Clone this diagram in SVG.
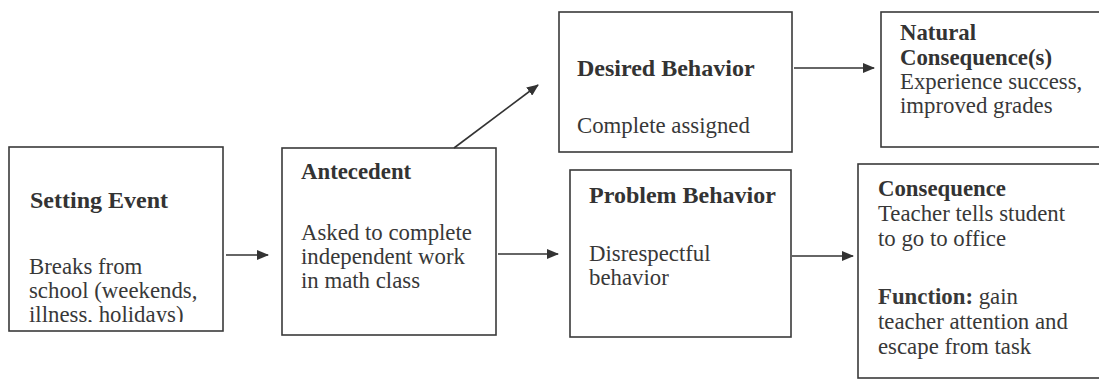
<svg xmlns="http://www.w3.org/2000/svg" width="1099" height="380" viewBox="0 0 1099 380">
  <style>
    .box { fill: #ffffff; stroke: #3a3a3a; stroke-width: 1.6; }
    .t { font-family: "Liberation Serif", "Times New Roman", serif; font-size: 22.8px; fill: #383838; }
    .h { font-family: "Liberation Serif", "Times New Roman", serif; font-size: 22.8px; font-weight: bold; fill: #333333; }
    .hc { font-family: "Liberation Serif", "Times New Roman", serif; font-size: 24px; font-weight: bold; fill: #333333; }
    .link { stroke: #333333; stroke-width: 1.6; fill: none; marker-end: url(#arrow); }
  </style>
  <defs>
    <marker id="arrow" viewBox="0 0 12 10" refX="11" refY="5" markerWidth="12" markerHeight="10" markerUnits="userSpaceOnUse" orient="auto">
      <path d="M0,0 L12,5 L0,10 Z" fill="#333333"/>
    </marker>
    <clipPath id="clipSetting">
      <rect x="9" y="147" width="214" height="175"/>
    </clipPath>
  </defs>
  <rect width="1099" height="380" fill="#ffffff"/>

  <g id="setting-event">
    <rect class="box" x="9" y="147" width="214" height="184"/>
    <g clip-path="url(#clipSetting)">
      <text class="hc" x="30" y="208">Setting Event</text>
      <text class="t" x="29" y="274">Breaks from</text>
      <text class="t" x="29" y="298">school (weekends,</text>
      <text class="t" x="29" y="322">illness, holidays)</text>
    </g>
  </g>

  <g id="antecedent">
    <rect class="box" x="282" y="148" width="214" height="187"/>
    <text class="h" x="301" y="179">Antecedent</text>
    <text class="t" x="301" y="240">Asked to complete</text>
    <text class="t" x="301" y="264">independent work</text>
    <text class="t" x="301" y="288">in math class</text>
  </g>

  <g id="desired-behavior">
    <rect class="box" x="559" y="12" width="233" height="140"/>
    <text class="hc" x="577" y="76">Desired Behavior</text>
    <text class="t" x="577" y="133">Complete assigned</text>
  </g>

  <g id="problem-behavior">
    <rect class="box" x="570" y="170" width="221" height="167"/>
    <text class="hc" x="589" y="203">Problem Behavior</text>
    <text class="t" x="589" y="261">Disrespectful</text>
    <text class="t" x="589" y="285">behavior</text>
  </g>

  <g id="natural-consequence">
    <rect class="box" x="881" y="12" width="230" height="135"/>
    <text class="h" x="900" y="40">Natural</text>
    <text class="h" x="900" y="65">Consequence(s)</text>
    <text class="t" x="900" y="89">Experience success,</text>
    <text class="t" x="900" y="113">improved grades</text>
  </g>

  <g id="consequence">
    <rect class="box" x="858" y="164" width="250" height="214"/>
    <text class="h" x="878" y="196">Consequence</text>
    <text class="t" x="878" y="221">Teacher tells student</text>
    <text class="t" x="878" y="246">to go to office</text>
    <text class="t" x="878" y="304"><tspan font-weight="bold">Function:</tspan> gain</text>
    <text class="t" x="878" y="329">teacher attention and</text>
    <text class="t" x="878" y="354">escape from task</text>
  </g>

  <g id="connectors">
    <line class="link" x1="226" y1="255" x2="268" y2="255"/>
    <line class="link" x1="498" y1="254" x2="558" y2="254"/>
    <line class="link" x1="454" y1="148" x2="538" y2="85"/>
    <line class="link" x1="792" y1="256" x2="853" y2="256"/>
    <line class="link" x1="794" y1="68" x2="874" y2="68"/>
  </g>
</svg>
